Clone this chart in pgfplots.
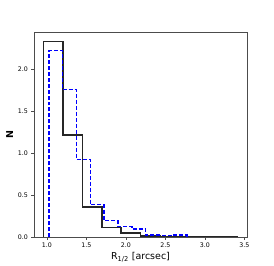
\documentclass[border=0pt]{standalone}
\usepackage{fontspec}
\setmainfont{DejaVu Sans}
\usepackage{pgfplots}
\pgfplotsset{compat=1.18}
\begin{document}
\begin{tikzpicture}
\useasboundingbox (0,0) rectangle (274bp,266bp);
\begin{axis}[
  at={(34bp,29bp)}, anchor=south west,
  scale only axis, width=213bp, height=205bp,
  xmin=0.8375, xmax=3.5325, ymin=0, ymax=2.446,
  xtick={1.0,1.5,2.0,2.5,3.0,3.5},
  ytick={0.0,0.5,1.0,1.5,2.0},
  xticklabel style={/pgf/number format/.cd,fixed,fixed zerofill,precision=1},
  yticklabel style={/pgf/number format/.cd,fixed,fixed zerofill,precision=1},
  /pgf/number format/assume math mode=true,
  tick label style={font=\fontsize{6.3}{7}\selectfont},
  tick align=outside, major tick length=2.5bp,
  xtick pos=bottom, ytick pos=left,
  axis line style={black!70, line width=0.6pt},
  every tick/.style={black!70},
  xlabel={R\textsubscript{1/2} [arcsec]},
  ylabel={\textbf{N}},
  label style={font=\fontsize{9.5}{10}\selectfont},
  xlabel style={yshift=2bp},
  ylabel style={yshift=-2bp},
]
\addplot[const plot, black!85, line width=1.5pt, line join=miter] coordinates {
(0.96,0) (0.96,2.33) (1.205,1.215) (1.45,0.355) (1.695,0.116) (1.94,0.048)
(2.185,0.012) (2.43,0.006) (2.675,0.004) (2.92,0.004) (3.165,0.004) (3.41,0.004) (3.41,0)
};
\addplot[const plot, blue, line width=1.4pt, dash pattern=on 4pt off 2pt] coordinates {
(1.025,0) (1.025,2.222) (1.2,1.757) (1.375,0.928) (1.55,0.387) (1.725,0.196)
(1.9,0.128) (2.075,0.096) (2.25,0.022) (2.425,0.016) (2.6,0.022) (2.775,0.022) (2.775,0)
};
\end{axis}
\end{tikzpicture}
\end{document}
